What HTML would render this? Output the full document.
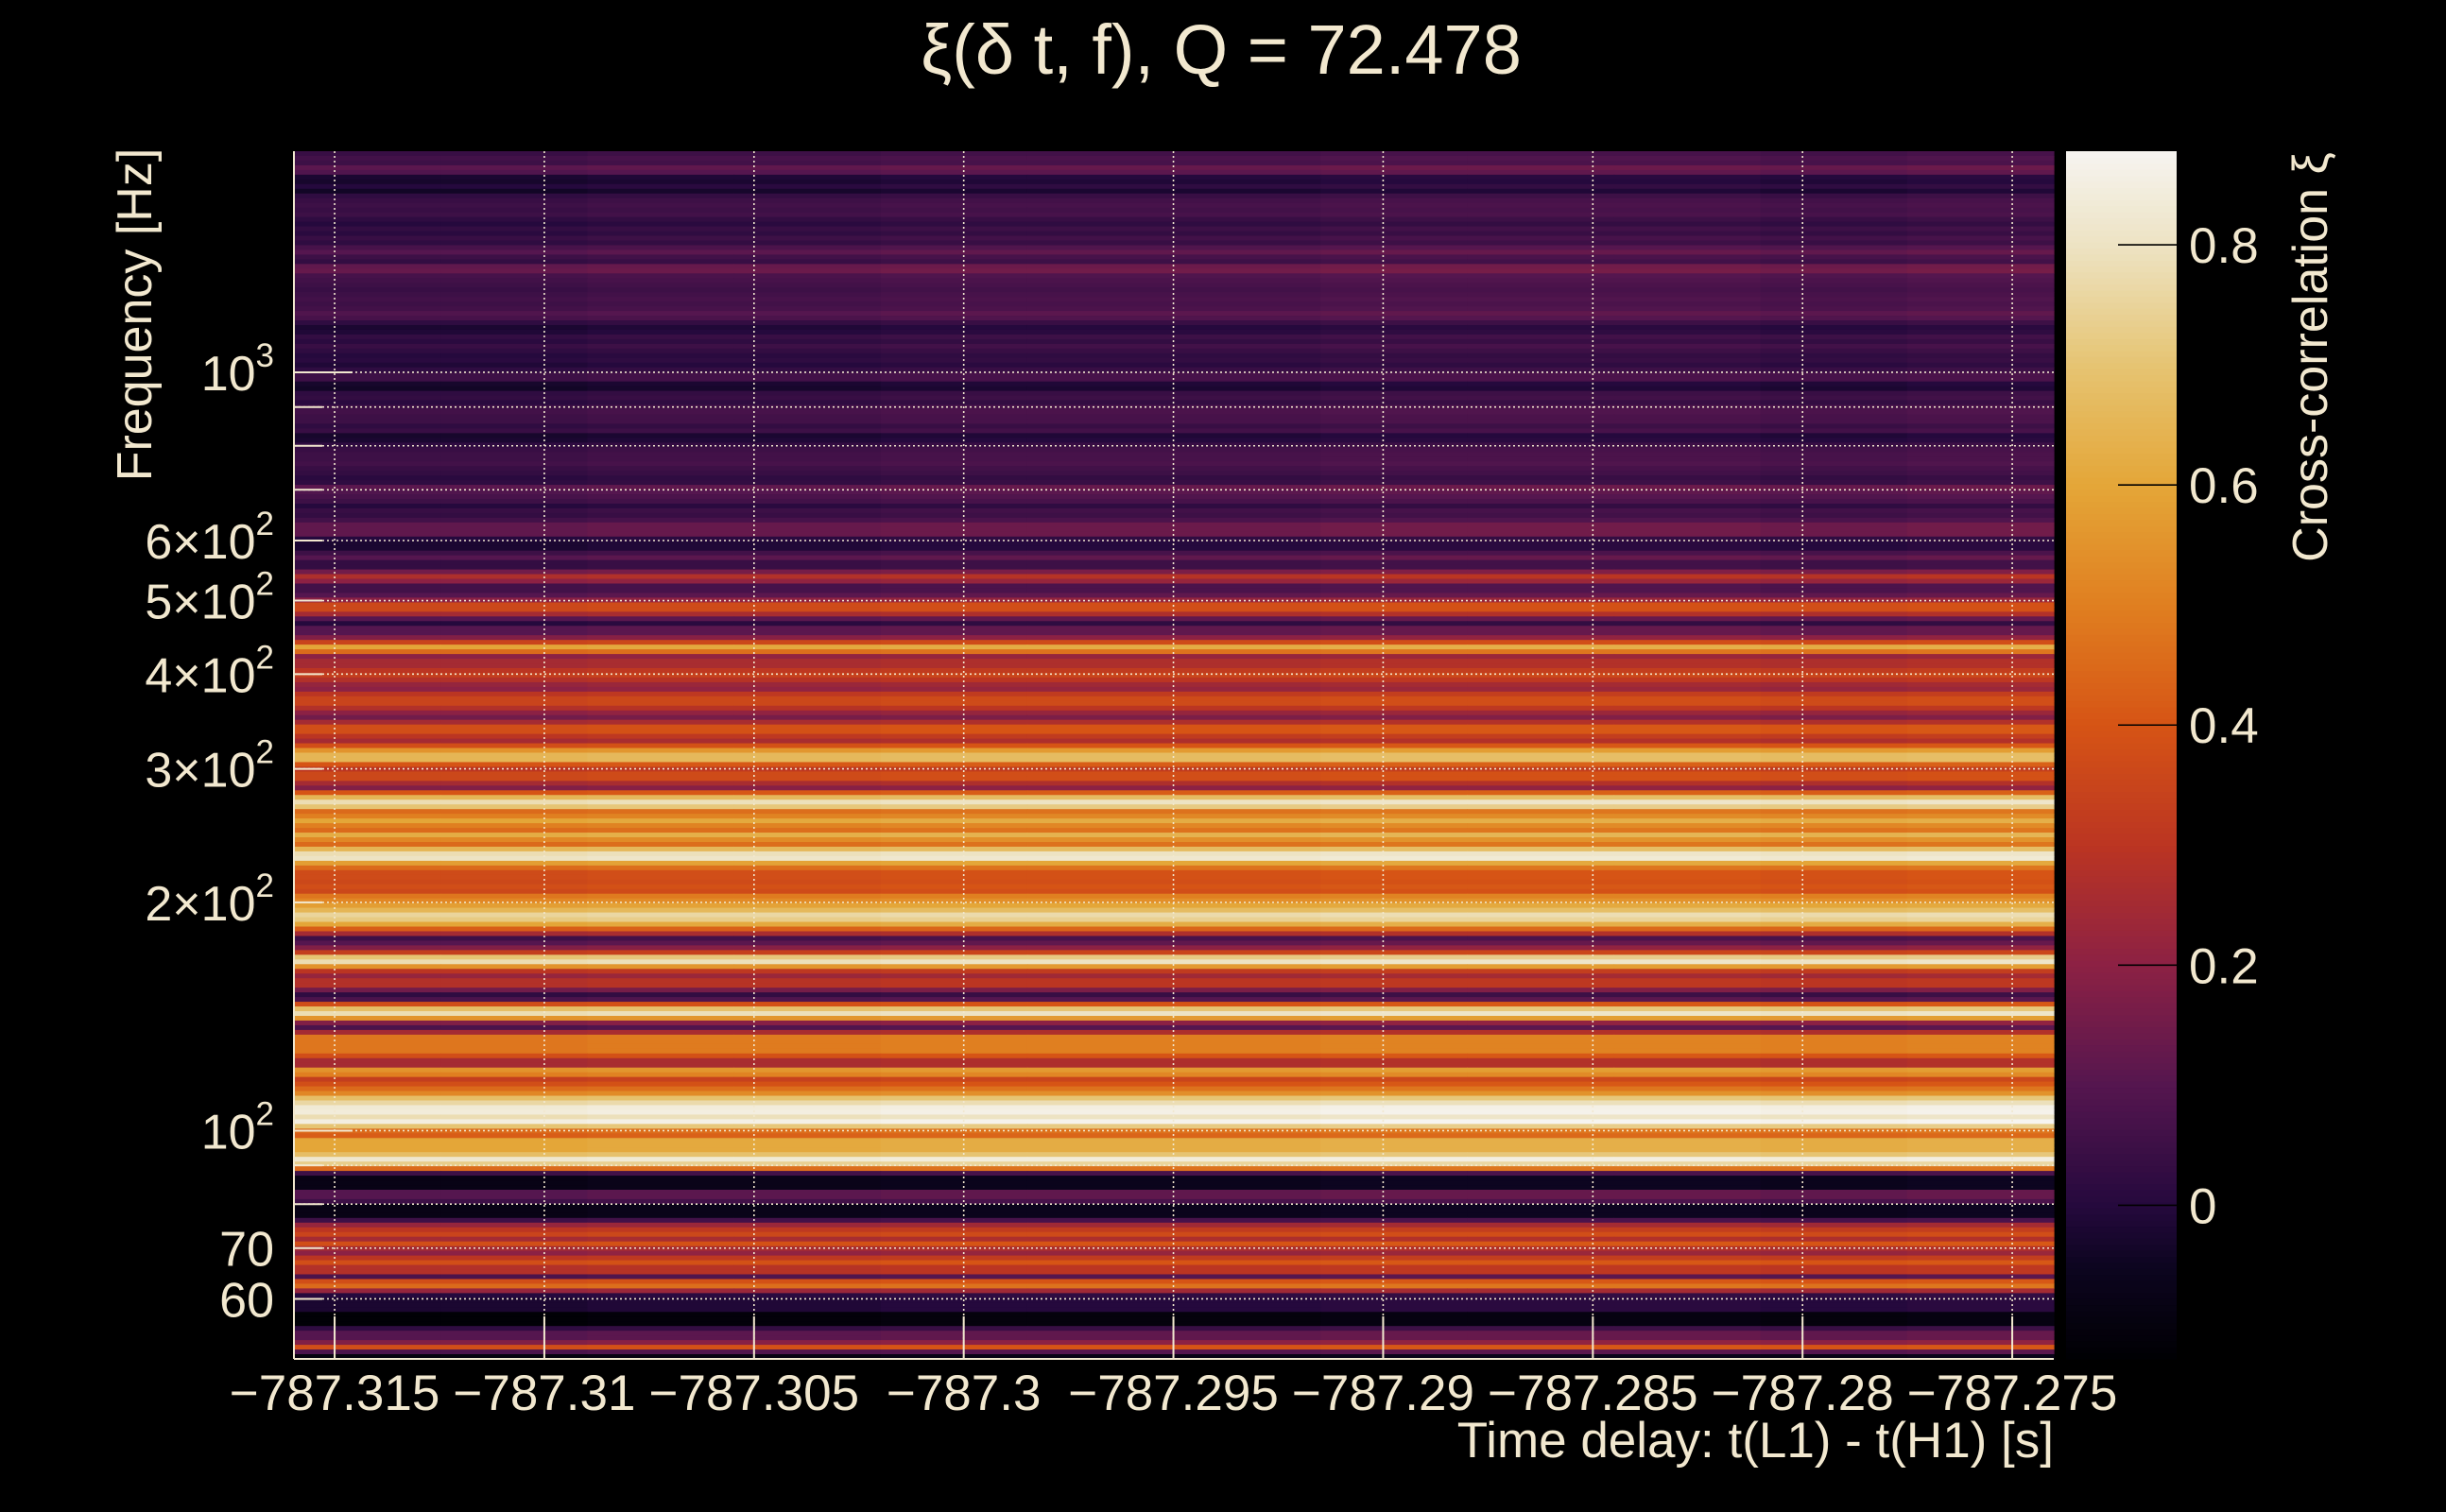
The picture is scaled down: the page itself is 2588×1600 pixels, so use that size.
<!DOCTYPE html>
<html><head><meta charset="utf-8">
<style>
html,body{margin:0;padding:0;background:#000;}
svg{display:block;}
text{font-family:"Liberation Sans",sans-serif;fill:#f2e8cf;}
</style></head>
<body>
<svg id="chart" width="2588" height="1600" viewBox="0 0 2588 1600" xmlns="http://www.w3.org/2000/svg">
<rect x="0" y="0" width="2588" height="1600" fill="#000"/>
<text x="1292" y="78" font-size="74" text-anchor="middle">ξ(δ t, f), Q = 72.478</text>
<g id="heat"></g>
<g id="grid"></g>
<g id="axes"></g>
<g id="cbar"></g>
<text x="2173" y="1542" font-size="53" text-anchor="end">Time delay: t(L1) - t(H1) [s]</text>
<text transform="translate(160,333) rotate(-90)" font-size="52" text-anchor="middle">Frequency [Hz]</text>
<text transform="translate(2462,378) rotate(-90)" font-size="52" text-anchor="middle">Cross-correlation ξ</text>
</svg>
<script>
// ---- data ----
const rowValues = [
0.04,0.06,0.05,0.11,0.09,-0.02,-0.03,0.0,-0.04,0.02,0.04,0.05,0.04,0.05,0.02,0.0,0.03,0.01,0.04,0.02,
0.07,0.1,0.05,0.03,0.12,0.13,0.07,0.06,0.05,0.04,0.05,0.06,0.05,0.06,0.09,0.07,0.02,-0.02,-0.01,0.03,
0.01,0.04,0.02,0.0,0.01,-0.01,0.02,0.05,0.05,-0.03,-0.04,0.02,0.03,0.01,0.05,0.06,0.05,0.05,0.02,0.04,
-0.03,-0.02,0.02,0.04,0.05,0.05,0.06,0.04,0.03,0.01,0.02,0.11,0.09,0.07,0.05,0.0,0.04,0.03,0.06,0.12,
0.12,0.12,0.0,-0.02,-0.02,0.05,0.1,0.03,0.03,0.15,
0.27,0.2,0.06,0.06,0.1,0.2,0.36,0.36,0.25,0.1,
0.0,0.1,0.1,0.18,0.35,0.6,0.45,0.2,0.25,0.25,
0.3,0.33,0.28,0.22,0.2,0.3,0.35,0.35,0.28,0.2,
0.15,0.25,0.38,0.38,0.3,0.25,0.38,0.55,0.65,0.65,
0.4,0.3,0.36,0.36,0.25,0.18,0.4,0.65,0.78,0.7,
0.45,0.5,0.6,0.5,0.45,0.62,0.52,0.45,0.65,0.78,
0.8,0.58,0.45,0.37,0.37,0.36,0.38,0.36,0.48,0.52,
0.58,0.65,0.75,0.72,0.6,0.42,0.25,0.05,0.1,0.18,
0.33,0.7,0.78,0.55,0.3,0.22,0.28,0.28,0.15,0.02,
0.08,0.38,0.68,0.78,0.55,0.18,0.08,0.25,0.48,0.48,
0.48,0.48,0.38,0.25,0.25,0.55,0.5,0.33,0.38,0.45,
0.52,0.68,0.76,0.83,0.84,0.78,0.85,0.7,0.45,0.42,
0.6,0.6,0.6,0.68,0.82,0.73,0.45,0.05,-0.08,-0.08,
-0.08,0.1,0.1,0.05,-0.08,-0.08,-0.08,0.05,0.22,0.3,
0.35,0.25,0.38,0.25,0.2,0.3,0.38,0.28,0.28,0.08,
0.38,0.45,0.22,0.0,-0.02,-0.02,-0.02,-0.12,-0.12,-0.12,
0.02,0.1,0.1,0.18,0.38,0.08,-0.1
];
const colShift = [0.0,0.0,0.01,0.01,0.02,0.02,0.02,0.03,0.03,0.03,0.02,0.03];
const xTicks = [-787.315,-787.31,-787.305,-787.3,-787.295,-787.29,-787.285,-787.28,-787.275];
const xTickLabels = ["\u2212787.315","\u2212787.31","\u2212787.305","\u2212787.3","\u2212787.295","\u2212787.29","\u2212787.285","\u2212787.28","\u2212787.275"];
const yMajorTicks = [1000,600,500,400,300,200,100,70,60];
const yMajorMant = ["","6\u00d7","5\u00d7","4\u00d7","3\u00d7","2\u00d7","","",""];
const yMajorExp = ["3","2","2","2","2","2","2","",""];
const yMajorPlain = ["","","","","","","","70","60"];
const yMinorTicks = [900,800,700,90,80];
const cbTicks = [0.8,0.6,0.4,0.2,0];
const cbTickLabels = ["0.8","0.6","0.4","0.2","0"];

// ---- geometry ----
const L=311,R=2173,T=160,B=1438;
const tMin=-787.31597,tMax=-787.27401;
const fMin=50.0,fMax=1957;
const vMin=-0.128,vMax=0.878;
const CBL=2186,CBR=2303;
const NS="http://www.w3.org/2000/svg";
function xs(t){return L+(t-tMin)/(tMax-tMin)*(R-L);}
function ys(f){return B-(Math.log10(f)-Math.log10(fMin))/(Math.log10(fMax)-Math.log10(fMin))*(B-T);}
function cy(v){return B-(v-vMin)/(vMax-vMin)*(B-T);}
const stops=[[-0.128,[0,0,3]],[-0.05,[13,5,32]],[0.0,[37,9,61]],[0.1,[85,22,79]],[0.2,[140,33,68]],[0.3,[187,53,34]],[0.4,[214,84,21]],[0.5,[224,127,32]],[0.6,[228,166,56]],[0.7,[230,196,114]],[0.8,[237,227,195]],[0.878,[246,244,240]]];
function cmap(v){
  if(v<=stops[0][0])return 'rgb('+stops[0][1].join(',')+')';
  for(let i=1;i<stops.length;i++){
    if(v<=stops[i][0]){const a=stops[i-1],b=stops[i];const k=(v-a[0])/(b[0]-a[0]);
      return 'rgb('+a[1].map((c,j)=>Math.round(c+(b[1][j]-c)*k)).join(',')+')';}
  }
  return 'rgb('+stops[stops.length-1][1].join(',')+')';
}
function mk(tag,attrs,parent){const e=document.createElementNS(NS,tag);for(const k in attrs)e.setAttribute(k,attrs[k]);parent.appendChild(e);return e;}

// ---- heatmap ----
const heat=document.getElementById('heat');
const nR=rowValues.length,nC=colShift.length;
const lf0=Math.log10(fMin),lf1=Math.log10(fMax);
for(let i=0;i<nR;i++){
  const fTop=Math.pow(10,lf1-(lf1-lf0)*i/nR), fBot=Math.pow(10,lf1-(lf1-lf0)*(i+1)/nR);
  const y0=ys(fTop),y1=ys(fBot);
  for(let j=0;j<nC;j++){
    const t0=tMin+(tMax-tMin)*j/nC,t1=tMin+(tMax-tMin)*(j+1)/nC;
    const x0=xs(t0),x1=xs(t1);
    const r=mk('rect',{x:x0.toFixed(2),y:y0.toFixed(2),width:(x1-x0+0.6).toFixed(2),height:(y1-y0+0.6).toFixed(2),fill:cmap(rowValues[i]+colShift[j])},heat);
    
    
  }
}

// ---- grid & axes ----
const grid=document.getElementById('grid'),axes=document.getElementById('axes');
const gc='#f2e8cf';
xTicks.forEach((t,i)=>{
  const x=xs(t);
  const g=mk('line',{x1:x,x2:x,y1:T,y2:B,stroke:gc,'stroke-width':1.6,'stroke-dasharray':'2 3'},grid);
  
  
  const tk=mk('line',{x1:x,x2:x,y1:B,y2:B-45,stroke:gc,'stroke-width':2},axes);
  
  
  const lb=mk('text',{x:x,y:B+54,'font-size':53,'text-anchor':'middle'},axes);
  lb.textContent=xTickLabels[i];
  
  
});
yMajorTicks.forEach((f,i)=>{
  const y=ys(f);
  const g=mk('line',{x1:L,x2:R,y1:y,y2:y,stroke:gc,'stroke-width':1.6,'stroke-dasharray':'2 3'},grid);
  
  
  const tk=mk('line',{x1:L,x2:L+(f===1000||f===100?62:30),y1:y,y2:y,stroke:gc,'stroke-width':2},axes);
  
  
  const lb=mk('text',{x:290,y:y+19,'font-size':52,'text-anchor':'end'},axes);
  
  
  if(yMajorPlain[i]){lb.textContent=yMajorPlain[i];}
  else{
    const s1=mk('tspan',{},lb);s1.textContent=yMajorMant[i]+'10';
    const s2=mk('tspan',{'font-size':35,dy:-25},lb);s2.textContent=yMajorExp[i];
  }
});
yMinorTicks.forEach(f=>{
  const y=ys(f);
  const g=mk('line',{x1:L,x2:R,y1:y,y2:y,stroke:gc,'stroke-width':1.6,'stroke-dasharray':'2 3'},grid);
  
  
  const tk=mk('line',{x1:L,x2:L+30,y1:y,y2:y,stroke:gc,'stroke-width':2},axes);
  
  
});
const la=mk('line',{x1:L,x2:L,y1:T,y2:B,stroke:gc,'stroke-width':2},axes);


const ba=mk('line',{x1:L,x2:R,y1:B,y2:B,stroke:gc,'stroke-width':2},axes);



// ---- colorbar ----
const cb=document.getElementById('cbar');
const nSteps=200;
for(let k=0;k<nSteps;k++){
  const v0=vMin+(vMax-vMin)*k/nSteps,v1=vMin+(vMax-vMin)*(k+1)/nSteps;
  const r=mk('rect',{x:CBL,y:cy(v1).toFixed(2),width:CBR-CBL,height:(cy(v0)-cy(v1)+0.6).toFixed(2),fill:cmap((v0+v1)/2)},cb);
  
  
}
cbTicks.forEach((v,i)=>{
  const y=cy(v);
  const tk=mk('line',{x1:2241,x2:CBR,y1:y,y2:y,stroke:'#000','stroke-width':1.6},cb);
  
  
  const lb=mk('text',{x:2316,y:y+19,'font-size':53},cb);
  lb.textContent=cbTickLabels[i];
  
  
});
</script>
</body></html>
